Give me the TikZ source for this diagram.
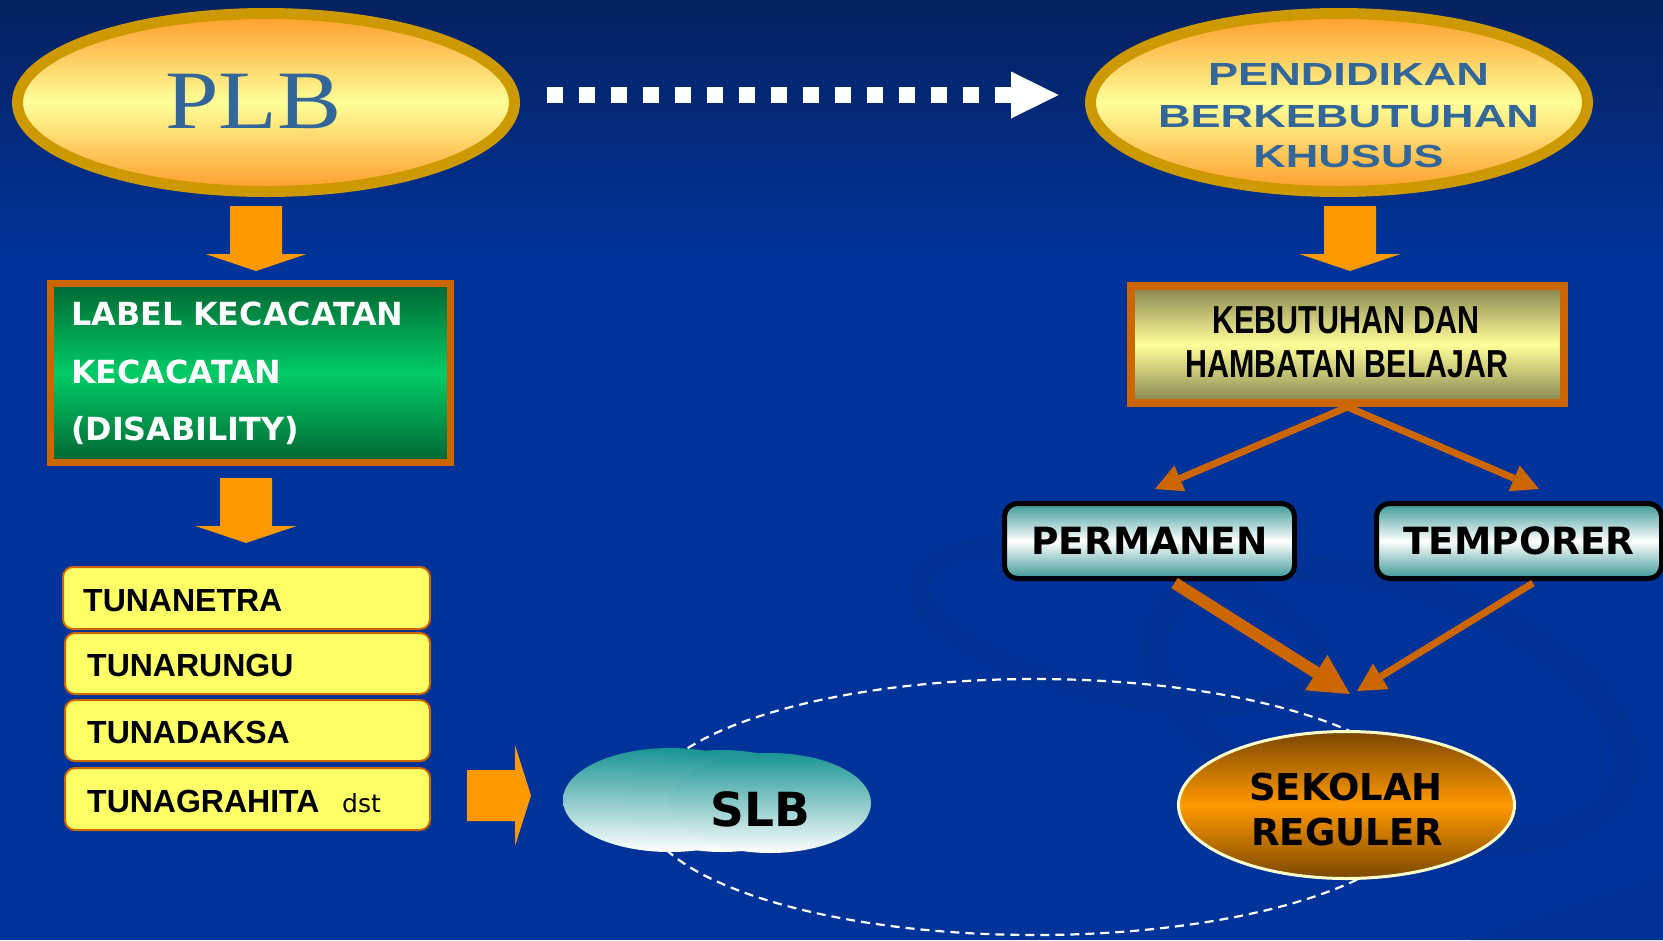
\documentclass[tikz,border=0pt]{standalone}
\usepackage{fontspec}
\usetikzlibrary{arrows.meta,shapes.geometric,calc}
\setmainfont{Liberation Sans}
\newfontfamily\plbfont[FakeStretch=1.16]{Liberation Serif}
\newfontfamily\pbkfont[FakeStretch=1.41]{Liberation Sans}
\newfontfamily\narrowfont[FakeStretch=0.78]{Liberation Sans}
\newfontfamily\verd{DejaVu Sans}
\definecolor{bgblue}{HTML}{003399}
\definecolor{bgtop}{HTML}{06215F}
\definecolor{swirl}{HTML}{003193}
\definecolor{gold}{HTML}{CC9900}
\definecolor{ellorange}{HTML}{FF9C2A}
\definecolor{ellyellow}{HTML}{FFFF99}
\definecolor{plbtext}{HTML}{336699}
\definecolor{arrowor}{HTML}{FF9900}
\definecolor{boxborder}{HTML}{CC6600}
\definecolor{darkgreen}{HTML}{006633}
\definecolor{midgreen}{HTML}{00CC66}
\definecolor{olive}{HTML}{86834F}
\definecolor{tunafill}{HTML}{FFFF66}
\definecolor{tealc}{HTML}{3A9898}
\definecolor{brownc}{HTML}{7A4700}
\definecolor{sekor}{HTML}{FF9900}
\definecolor{slbteal}{HTML}{1A9494}
\definecolor{sekborder}{HTML}{FFFFCC}
\tikzset{
  bigell/.style={ellipse, draw=gold, line width=11, top color=ellorange, bottom color=ellorange, middle color=ellyellow, inner sep=0, minimum width=497, minimum height=178},
  labelbox/.style={rectangle, draw=boxborder, line width=7, top color=darkgreen, bottom color=darkgreen, middle color=midgreen, inner sep=0},
  kebbox/.style={rectangle, draw=boxborder, line width=8, top color=olive, bottom color=olive, middle color=ellyellow, inner sep=0},
  tunabox/.style={rectangle, rounded corners=10, draw=boxborder, line width=2, fill=tunafill, inner sep=0},
  tunatext/.style={font=\bfseries\fontsize{32}{32}\selectfont, text=black, anchor=base west, inner sep=0},
  labeltext/.style={font=\verd\bfseries\fontsize{31.8}{31.8}\selectfont, text=white, anchor=base west, inner sep=0},
  pbktext/.style={font=\pbkfont\bfseries\fontsize{32}{32}\selectfont, text=plbtext, anchor=base, inner sep=0},
  kebtext/.style={font=\narrowfont\bfseries\fontsize{39}{39}\selectfont, text=black, anchor=base, inner sep=0},
  statebox/.style={rectangle, rounded corners=13, draw=black, line width=5, top color=tealc, bottom color=tealc, middle color=white, minimum height=75, inner sep=0, font=\verd\bfseries\fontsize{37.5}{37.5}\selectfont, text=black},
  sekell/.style={ellipse, draw=sekborder, line width=3, top color=brownc, bottom color=brownc, middle color=sekor, inner sep=0, minimum width=336, minimum height=147},
  sektext/.style={font=\verd\bfseries\fontsize{37}{37}\selectfont, text=black, anchor=base, inner sep=0},
  blockarrow/.style={fill=arrowor},
  bentarrow/.style={draw=boxborder, line width=7, -{Triangle[length=27pt,width=28pt,line width=0pt]}},
  thickarrow/.style={draw=boxborder, line width=12, -{Triangle[length=40pt,width=42pt,line width=0pt]}},
  slbshade/.style={top color=slbteal, bottom color=white},
  downarr/.pic={\fill[blockarrow] (-26,0) -- (26,0) -- (26,48) -- (50.5,48) -- (0,65) -- (-50.5,48) -- (-26,48) -- cycle;},
  rightarr/.pic={\fill[blockarrow] (0,-25.5) -- (48,-25.5) -- (48,-50.5) -- (64,0) -- (48,50.5) -- (48,25.5) -- (0,25.5) -- cycle;}
}
\begin{document}
\begin{tikzpicture}[x=1pt,y=-1pt]
\useasboundingbox (0,0) rectangle (1663,940);
% background
\fill[bgblue] (0,0) rectangle (1663,940);
\shade[top color=bgtop, bottom color=bgblue] (0,0) rectangle (1663,260);
\draw[swirl, line width=20] (1120,625) ellipse [x radius=205, y radius=70, rotate=-12];
\draw[swirl, line width=26] (1390,705) ellipse [x radius=245, y radius=120, rotate=-18];
\fill[swirl] (1470,940) -- (1663,875) -- (1663,940) -- cycle;

% top ellipses
\node[bigell] (plb) at (266,102.5) {};
\node[font=\plbfont\fontsize{83}{83}\selectfont, text=plbtext, anchor=base, inner sep=0] (plbtxt) at (253.5,128) {PLB};
\node[bigell] (pbk) at (1339,102.5) {};
\node[pbktext] (pbk1) at (1348.5,85) {PENDIDIKAN};
\node[pbktext] (pbk2) at (1348.5,127) {BERKEBUTUHAN};
\node[pbktext] (pbk3) at (1348.5,167) {KHUSUS};

% dotted arrow
\coordinate (dotA) at (546.5,95);
\coordinate (dotB) at (1058.6,95);
\draw[white, line width=16, dash pattern=on 16 off 16, -{Triangle[length=47.6pt,width=47pt,line width=0pt]}] (dotA) -- (dotB);

% down arrows
\pic at (256,206) {downarr};
\pic at (1350,206) {downarr};
\pic at (246,478) {downarr};

% label box
\node[labelbox, minimum width=400, minimum height=179] (lab) at (250.5,373) {};
\node[labeltext] (lab1) at (71,325) {LABEL KECACATAN};
\node[labeltext] (lab2) at (71,383) {KECACATAN};
\node[labeltext] (lab3) at (71,440) {(DISABILITY)};

% kebutuhan box
\node[kebbox, minimum width=433, minimum height=117] (keb) at (1347.5,344.5) {};
\node[kebtext] (keb1) at (1346,333) {KEBUTUHAN DAN};
\node[kebtext] (keb2) at (1347,377) {HAMBATAN BELAJAR};

% tuna list
\node[tunabox, minimum width=367, minimum height=62] (t1) at (246.5,598) {};
\node[tunabox, minimum width=365, minimum height=61] (t2) at (247.5,663.5) {};
\node[tunabox, minimum width=365, minimum height=61] (t3) at (247.5,730.5) {};
\node[tunabox, minimum width=365, minimum height=62] (t4) at (247.5,799) {};
\node[tunatext] (tt1) at (83,611) {TUNANETRA};
\node[tunatext] (tt2) at (87,676) {TUNARUNGU};
\node[tunatext] (tt3) at (87,743) {TUNADAKSA};
\node[tunatext] (tt4) at (87,812) {TUNAGRAHITA};
\node[font=\verd\fontsize{25}{25}\selectfont, anchor=base west, inner sep=0] (dst) at (342,812) {dst};

% right block arrow
\pic at (467,795.5) {rightarr};

% dashed ellipse
\draw[white, line width=2.2, dash pattern=on 9 off 6] (1035,807) ellipse [x radius=391, y radius=128];

% SLB cloud
\shade[slbshade] (670,800) ellipse [x radius=107, y radius=52];
\shade[slbshade] (722,801) ellipse [x radius=100, y radius=51];
\shade[slbshade] (770,803) ellipse [x radius=101, y radius=50];
\node[font=\verd\bfseries\fontsize{47}{47}\selectfont, text=black, anchor=base, inner sep=0] (slb) at (760.5,826) {SLB};

% permanen / temporer
\node[statebox, minimum width=290] (perm) at (1149.5,541) {PERMANEN};
\node[statebox, minimum width=285] (temp) at (1519,541) {TEMPORER};

% sekolah reguler
\node[sekell] (sek) at (1346.5,805) {};
\node[sektext] (sek1) at (1346,800) {SEKOLAH};
\node[sektext] (sek2) at (1347,845) {REGULER};

% connectors
\coordinate (pTip) at (1155,489);
\coordinate (tTip) at (1539,489);
\draw[bentarrow] (keb.south) -- (pTip);
\draw[bentarrow] (keb.south) -- (tTip);
\coordinate (sTipL) at (1350,694);
\coordinate (sTipR) at (1357,691);
\draw[thickarrow] ([xshift=25pt,yshift=-2pt]perm.south) -- (sTipL);
\draw[bentarrow, -{Triangle[length=28pt,width=30pt,line width=0pt]}] ([xshift=14pt,yshift=-2pt]temp.south) -- (sTipR);
\end{tikzpicture}
\end{document}
